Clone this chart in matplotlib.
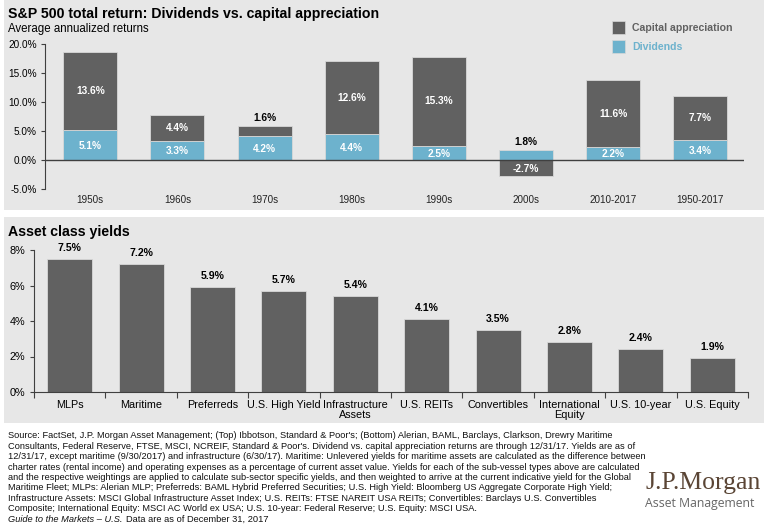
import numpy as np
import matplotlib
matplotlib.use('Agg')
import matplotlib.pyplot as plt
from matplotlib.patches import Rectangle

plt.rcParams['font.family'] = ['Liberation Sans', 'DejaVu Sans']

# --- data ---
periods = ['1950s', '1960s', '1970s', '1980s', '1990s', '2000s', '2010-2017', '1950-2017']
dividends = [5.1, 3.3, 4.2, 4.4, 2.5, 1.8, 2.2, 3.4]
cap_appr = [13.6, 4.4, 1.6, 12.6, 15.3, -2.7, 11.6, 7.7]

assets = ['MLPs', 'Maritime', 'Preferreds', 'U.S. High Yield', 'Infrastructure\nAssets',
          'U.S. REITs', 'Convertibles', 'International\nEquity', 'U.S. 10-year', 'U.S. Equity']
yields = [7.5, 7.2, 5.9, 5.7, 5.4, 4.1, 3.5, 2.8, 2.4, 1.9]

footnote_lines = [
    "Source: FactSet, J.P. Morgan Asset Management; (Top) Ibbotson, Standard & Poor's; (Bottom) Alerian, BAML, Barclays, Clarkson, Drewry Maritime",
    "Consultants, Federal Reserve, FTSE, MSCI, NCREIF, Standard & Poor's. Dividend vs. capital appreciation returns are through 12/31/17. Yields are as of",
    "12/31/17, except maritime (9/30/2017) and infrastructure (6/30/17). Maritime: Unlevered yields for maritime assets are calculated as the difference between",
    "charter rates (rental income) and operating expenses as a percentage of current asset value. Yields for each of the sub-vessel types above are calculated",
    "and the respective weightings are applied to calculate sub-sector specific yields, and then weighted to arrive at the current indicative yield for the Global",
    "Maritime Fleet; MLPs: Alerian MLP; Preferreds: BAML Hybrid Preferred Securities; U.S. High Yield: Bloomberg US Aggregate Corporate High Yield;",
    "Infrastructure Assets: MSCI Global Infrastructure Asset Index; U.S. REITs: FTSE NAREIT USA REITs; Convertibles: Barclays U.S. Convertibles",
    "Composite; International Equity: MSCI AC World ex USA; U.S. 10-year: Federal Reserve; U.S. Equity: MSCI USA.",
]

DARK = '#616161'
BLUE = '#6db2cd'
PANEL = '#e7e7e7'
EDGE = '#d8d8d8'
W, H = 768, 525


def px_rect(x, y, w, h):
    """Pixel box (top-left origin) -> figure fraction [l, b, w, h]."""
    return [x / W, 1 - (y + h) / H, w / W, h / H]


def fx(x):
    return x / W


def fy(y):
    return 1 - y / H


fig = plt.figure(figsize=(W / 100, H / 100), dpi=100)
fig.patch.set_facecolor('white')

# grey panels behind both charts
for (x, y, w, h) in [(4, 0, 760, 210), (4, 217, 760, 206)]:
    l, b, ww, hh = px_rect(x, y, w, h)
    fig.patches.append(Rectangle((l, b), ww, hh, transform=fig.transFigure,
                                 facecolor=PANEL, edgecolor='none', zorder=-5))

# ---------- top chart ----------
fig.text(fx(8), fy(14), 'S&P 500 total return: Dividends vs. capital appreciation',
         fontsize=10.2, fontweight='bold', va='center', ha='left')
fig.text(fx(8), fy(29), 'Average annualized returns', fontsize=8.3, va='center', ha='left')

ax1 = fig.add_axes(px_rect(45, 44, 699, 145))
ax1.set_facecolor('none')
x = np.arange(len(periods))
bw = 0.62
ax1.bar(x, dividends, bw, color=BLUE, edgecolor=EDGE, linewidth=0.6, zorder=2)
cap_bottom = [d if c >= 0 else 0 for d, c in zip(dividends, cap_appr)]
ax1.bar(x, cap_appr, bw, bottom=cap_bottom, color=DARK, edgecolor=EDGE,
        linewidth=0.6, zorder=2)
ax1.axhline(0, color='#404040', linewidth=1.0, zorder=3)
ax1.set_xlim(-0.52, 7.5)
ax1.set_ylim(-5, 20)
ax1.set_yticks([-5, 0, 5, 10, 15, 20])
ax1.set_yticklabels([f'{v:.1f}%' for v in [-5, 0, 5, 10, 15, 20]])
ax1.set_xticks([])
for s in ['top', 'right', 'bottom']:
    ax1.spines[s].set_visible(False)
ax1.spines['left'].set_color('#404040')
ax1.tick_params(axis='y', labelsize=7.2, length=3, color='#404040', pad=3)

lab_kw = dict(fontsize=7.3, fontweight='bold', ha='center', zorder=4)
for i in range(len(periods)):
    d, c = dividends[i], cap_appr[i]
    if c < 0:
        # dividend label above, negative appreciation inside its bar
        ax1.text(i, d + 0.5, f'{d:.1f}%', color='black', va='bottom', **lab_kw)
        ax1.text(i, c / 2 - 0.15, f'{c:.1f}%', color='white', va='center', **lab_kw)
        continue
    ax1.text(i, d / 2 - 0.15, f'{d:.1f}%', color='white', va='center', **lab_kw)
    if c < 3:
        ax1.text(i, d + c + 0.5, f'{c:.1f}%', color='black', va='bottom', **lab_kw)
    else:
        ax1.text(i, d + c / 2, f'{c:.1f}%', color='white', va='center', **lab_kw)

# category labels under the chart
for i, p in enumerate(periods):
    fig.text(fx(45 + (i + 0.52) * 87.1), fy(200), p, fontsize=7.1,
             ha='center', va='center', color='#222222')

# legend
for k, (lab, col) in enumerate([('Capital appreciation', DARK), ('Dividends', BLUE)]):
    yy = 21 + k * 19
    l, b, ww, hh = px_rect(612, yy, 13, 13)
    fig.patches.append(Rectangle((l, b), ww, hh, transform=fig.transFigure,
                                 facecolor=col, edgecolor=EDGE, linewidth=0.5, zorder=2))
    fig.text(fx(632), fy(yy + 7), lab, fontsize=7.6, fontweight='bold', color=col,
             ha='left', va='center')

# ---------- bottom chart ----------
fig.text(fx(8), fy(232), 'Asset class yields', fontsize=10.2, fontweight='bold',
         va='center', ha='left')

ax2 = fig.add_axes(px_rect(34, 250, 714, 142))
ax2.set_facecolor('none')
xb = np.arange(len(assets))
ax2.bar(xb, yields, 0.63, color=DARK, edgecolor=EDGE, linewidth=0.6, zorder=2)
ax2.set_xlim(-0.5, len(assets) - 0.5)
ax2.set_ylim(0, 8)
ax2.set_yticks([0, 2, 4, 6, 8])
ax2.set_yticklabels([f'{v}%' for v in [0, 2, 4, 6, 8]])
ax2.set_xticks(np.arange(len(assets) + 1) - 0.5)
ax2.set_xticklabels([])
ax2.set_xticks(xb, minor=True)
ax2.set_xticklabels(assets, minor=True)
ax2.tick_params(axis='x', which='major', length=4, color='#404040', direction='out')
ax2.tick_params(axis='x', which='minor', length=0, labelsize=7.8, pad=6)
ax2.tick_params(axis='y', labelsize=7.8, length=3, color='#404040')
for s in ['top', 'right']:
    ax2.spines[s].set_visible(False)
ax2.spines['left'].set_color('#404040')
ax2.spines['bottom'].set_color('#404040')
for lab in ax2.get_xticklabels(minor=True):
    lab.set_linespacing(0.9)
for i, v in enumerate(yields):
    ax2.text(i, v + 0.35, f'{v:.1f}%', fontsize=7.6, fontweight='bold',
             ha='center', va='bottom', color='black')

# ---------- footnote ----------
FN = 6.65
for k, line in enumerate(footnote_lines):
    fig.text(fx(8), fy(436 + k * 10.4), line, fontsize=FN, ha='left', va='center',
             color='#111111')
yl = fy(436 + 8 * 10.4)
t = fig.text(fx(8), yl, 'Guide to the Markets \u2013 U.S.', fontsize=FN, style='italic',
             ha='left', va='center', color='#111111')
fig.canvas.draw()
bb = t.get_window_extent()
fig.text(bb.x1 / W + fx(3), yl, 'Data are as of December 31, 2017', fontsize=FN,
         ha='left', va='center', color='#111111')

# logo
fig.text(fx(645), fy(483), 'J.P.Morgan', fontsize=18.5, family='Liberation Serif',
         color='#5a4535', ha='left', va='center')
fig.text(fx(645), fy(504), 'Asset Management', fontsize=8.8, family='Open Sans',
         color='#666666', ha='left', va='center')

fig.savefig('out.png', dpi=100)
